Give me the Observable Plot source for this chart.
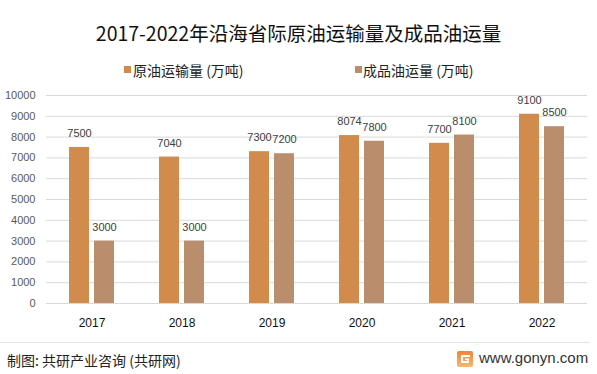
<!DOCTYPE html>
<html>
<head>
<meta charset="utf-8">
<script src="https://cdn.jsdelivr.net/npm/d3@7"></script>
<script src="https://cdn.jsdelivr.net/npm/@observablehq/plot@0.6"></script>
<style>
  html, body { margin: 0; padding: 0; background: #fff; }
  #wrap { position: relative; width: 597px; height: 374px; overflow: hidden; font-family: "Noto Sans CJK SC", "Noto Sans", sans-serif; }
  #chart { position: absolute; left: 0; top: 0; }
  .abs { position: absolute; white-space: nowrap; }
  #title { left: 0; width: 597px; top: 21px; height: 24px; line-height: 24px; text-align: center; font-size: 19.5px; color: #111; }
  .lg { top: 61px; height: 18px; line-height: 18px; font-size: 14px; color: #222; }
  .sw { position: absolute; width: 7px; height: 7px; top: 66px; }
  #rule { left: 0; top: 342px; width: 590px; height: 1px; background: #e3e3e3; }
  #src { left: 7px; top: 350px; height: 20px; line-height: 20px; font-size: 14px; color: #222; }
  #url { left: 479px; top: 348px; height: 20px; line-height: 20px; font-size: 15px; color: #333; font-family: "Liberation Sans", Arial, sans-serif; }
  #logo { left: 457px; top: 351px; }
</style>
</head>
<body>
<div id="wrap">
  <div id="chart"></div>
  <div id="title" class="abs"></div>
  <div class="sw" id="sw1" style="left:124px"></div>
  <div class="abs lg" id="lg1" style="left:133px"></div>
  <div class="sw" id="sw2" style="left:355px"></div>
  <div class="abs lg" id="lg2" style="left:363px"></div>
  <div id="rule" class="abs"></div>
  <div id="src" class="abs">制图: 共研产业咨询 (共研网)</div>
  <svg id="logo" class="abs" width="16" height="16" viewBox="0 0 16 16">
    <defs>
      <linearGradient id="lgG" x1="0" y1="0" x2="0" y2="1">
        <stop offset="0" stop-color="#f0823a"/>
        <stop offset="1" stop-color="#f7b870"/>
      </linearGradient>
    </defs>
    <rect x="0" y="0" width="16" height="16" rx="2" fill="url(#lgG)"/>
    <path d="M4 4 H13 V6 H6 V10 H10 V9 H8 V7.5 H12 V12 H4 Z" fill="#fff"/>
  </svg>
  <div id="url" class="abs">www.gonyn.com</div>
</div>
<script>
const titleText = "2017-2022年沿海省际原油运输量及成品油运量";
const seriesNames = ["原油运输量 (万吨)", "成品油运量 (万吨)"];
const years = ["2017", "2018", "2019", "2020", "2021", "2022"];
const crudeOil = [7500, 7040, 7300, 8074, 7700, 9100];
const productOil = [3000, 3000, 7200, 7800, 8100, 8500];
const yTicks = [0, 1000, 2000, 3000, 4000, 5000, 6000, 7000, 8000, 9000, 10000];
const colors = ["#D18B4D", "#BA8D6D"];

document.getElementById("title").textContent = titleText;
document.getElementById("lg1").textContent = seriesNames[0];
document.getElementById("lg2").textContent = seriesNames[1];
document.getElementById("sw1").style.background = colors[0];
document.getElementById("sw2").style.background = colors[1];

const rows = years.map((y, i) => ({year: y, crude: crudeOil[i], product: productOil[i]}));

const chart = Plot.plot({
  width: 597,
  height: 374,
  marginTop: 95,
  marginBottom: 71,
  marginLeft: 46,
  marginRight: 10,
  style: {fontFamily: "'Liberation Sans', Arial, sans-serif", background: "transparent"},
  x: {type: "band", domain: years, paddingInner: 0.5, paddingOuter: 0.25, label: null},
  y: {domain: [0, 10000], label: null},
  marks: [
    Plot.gridY(yTicks, {stroke: "#d9d9d9", strokeOpacity: 1}),
    Plot.axisY({ticks: yTicks, tickSize: 0, tickPadding: 11, fontSize: 11, fill: "#595959", tickFormat: d3.format("d"), label: null}),
    Plot.axisX({tickSize: 0, tickPadding: 15, fontSize: 12, fill: "#111", label: null}),
    Plot.barY(rows, {x: "year", y: "crude", fill: colors[0], insetRight: 25}),
    Plot.barY(rows, {x: "year", y: "product", fill: colors[1], insetLeft: 25}),
    Plot.text(rows, {x: "year", y: "crude", text: d => String(d.crude), dx: -12.5, dy: -14, fontSize: 11, fill: "#404040"}),
    Plot.text(rows, {x: "year", y: "product", text: d => String(d.product), dx: 12.5, dy: -14, fontSize: 11, fill: "#404040"})
  ]
});
document.getElementById("chart").appendChild(chart);
</script>
</body>
</html>
